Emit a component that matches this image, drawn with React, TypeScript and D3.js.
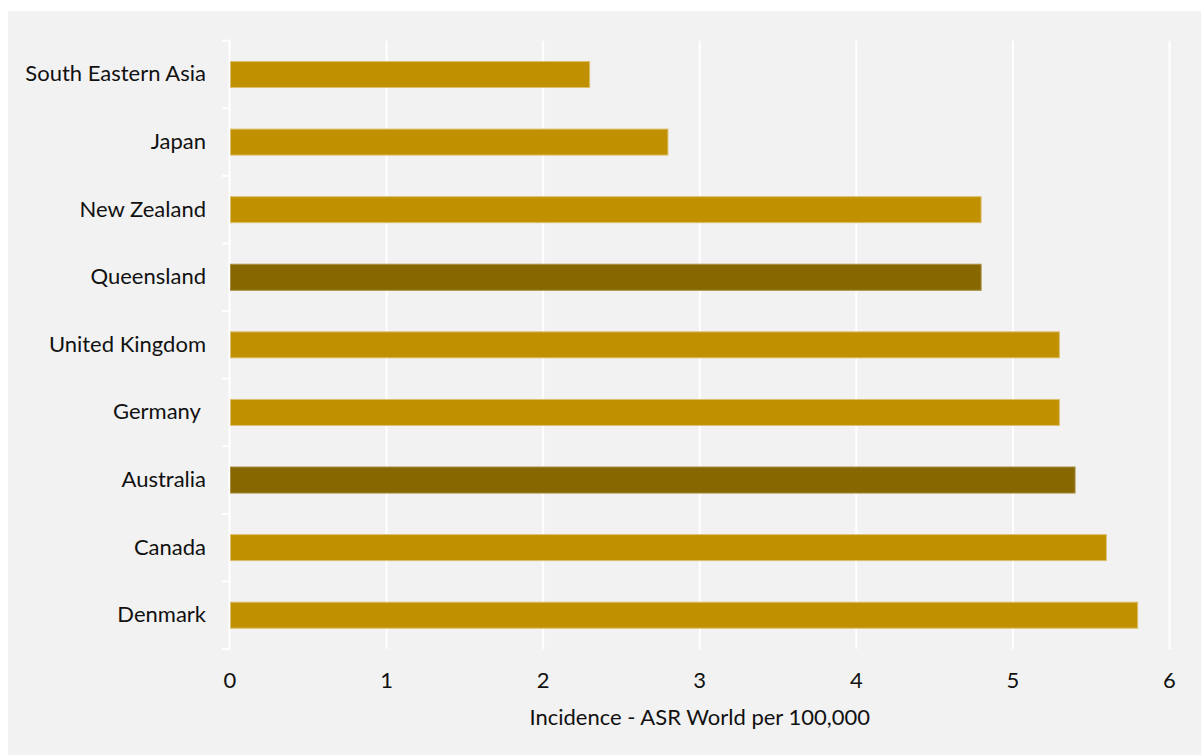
import React from "react";
import * as d3 from "d3";

const categories = [
  "South Eastern Asia",
  "Japan",
  "New Zealand",
  "Queensland",
  "United Kingdom",
  "Germany ",
  "Australia",
  "Canada",
  "Denmark",
];
const incidence = [2.3, 2.8, 4.8, 4.8, 5.3, 5.3, 5.4, 5.6, 5.8];
const highlighted = ["Queensland", "Australia"];
const xTicks = [0, 1, 2, 3, 4, 5, 6];
const xTitle = "Incidence - ASR World per 100,000";

const W = 1201;
const H = 755;
const FONT = "Lato, 'Open Sans', sans-serif";

export default function App() {
  const x = d3.scaleLinear().domain([0, 6]).range([230, 1169.5]);
  const y = d3
    .scaleBand<string>()
    .domain(categories)
    .range([40.7, 649])
    .paddingInner(0.6)
    .paddingOuter(0.3);
  const bandEdges = d3
    .range(categories.length + 1)
    .map((i) => 40.7 + i * ((649 - 40.7) / categories.length));

  return (
    <svg
      width={W}
      height={H}
      style={{ position: "absolute", left: 0, top: 0, display: "block" }}
    >
      <rect x={0} y={0} width={W} height={H} fill="#ffffff" />
      <rect x={8} y={11} width={W - 8} height={H - 11} fill="#f2f2f2" />

      {/* vertical gridlines */}
      {xTicks.slice(1).map((t) => (
        <line
          key={t}
          x1={x(t)}
          x2={x(t)}
          y1={40.7}
          y2={649}
          stroke="#ffffff"
          strokeWidth={2}
        />
      ))}

      {/* category axis line and ticks */}
      <line x1={229.5} x2={229.5} y1={40.7} y2={649} stroke="#ffffff" strokeWidth={2} />
      {bandEdges.map((e, i) => (
        <line key={i} x1={222} x2={230} y1={e} y2={e} stroke="#ffffff" strokeWidth={2} />
      ))}

      {/* bars */}
      {categories.map((c, i) => (
        <rect
          key={c}
          x={x(0) + 0.5}
          y={(y(c) ?? 0) + 0.5}
          width={x(incidence[i]) - x(0) - 1}
          height={y.bandwidth() - 1}
          fill={highlighted.includes(c) ? "#876700" : "#c09000"}
          stroke={highlighted.includes(c) ? "#a88d40" : "#dcc070"}
          strokeWidth={1}
        />
      ))}

      {/* category labels */}
      {categories.map((c) => (
        <text
          key={c}
          x={206}
          y={(y(c) ?? 0) + y.bandwidth() / 2 - 1.5}
          textAnchor="end"
          dominantBaseline="central"
          fontFamily={FONT}
          fontSize={22}
          fill="#111111"
          style={{ whiteSpace: "pre" }}
        >
          {c}
        </text>
      ))}

      {/* value axis tick labels */}
      {xTicks.map((t) => (
        <text
          key={t}
          x={x(t)}
          y={679}
          textAnchor="middle"
          dominantBaseline="central"
          fontFamily={FONT}
          fontSize={22}
          fill="#111111"
        >
          {d3.format("d")(t)}
        </text>
      ))}

      <text
        x={x(3)}
        y={716}
        textAnchor="middle"
        dominantBaseline="central"
        fontFamily={FONT}
        fontSize={22}
        fill="#111111"
      >
        {xTitle}
      </text>
    </svg>
  );
}
